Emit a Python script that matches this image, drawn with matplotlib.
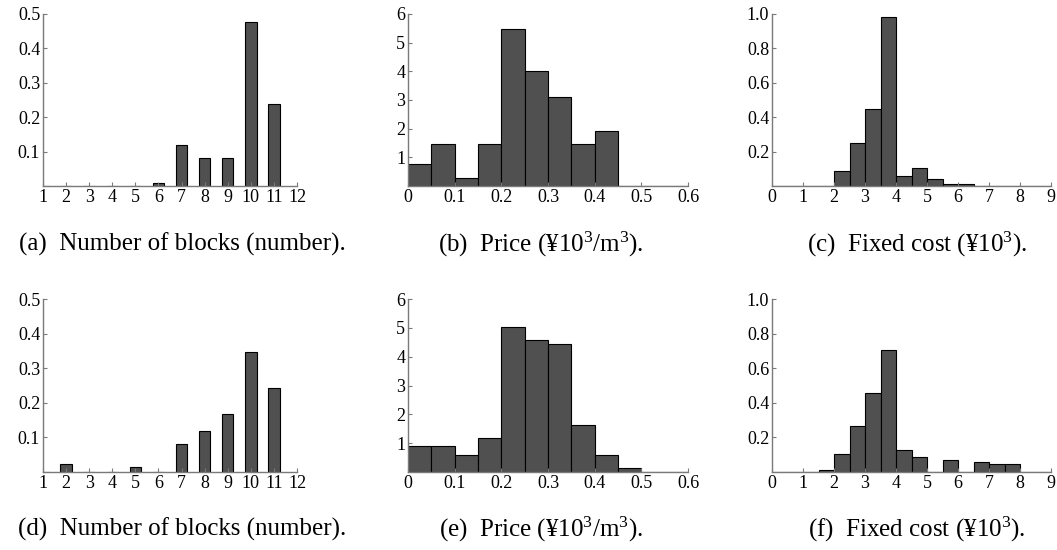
import numpy as np
import matplotlib
matplotlib.use("Agg")
import matplotlib.pyplot as plt

plt.rcParams['font.family'] = ['Liberation Serif', 'DejaVu Serif']
plt.rcParams['mathtext.fontset'] = 'custom'
plt.rcParams['mathtext.rm'] = 'Liberation Serif'
plt.rcParams['mathtext.it'] = 'Liberation Serif:italic'

# number of blocks (bar per integer)
blocks = np.arange(1, 12)
blocks_top = [0, 0, 0, 0, 0, 0.008, 0.118, 0.082, 0.082, 0.476, 0.238]
blocks_bot = [0, 0.022, 0, 0, 0.0135, 0, 0.081, 0.118, 0.169, 0.347, 0.244]

# price histogram, bins of 0.05
price_edges = np.arange(0, 0.6001, 0.05)
price_top = [0.76, 1.48, 0.29, 1.48, 5.49, 4.01, 3.12, 1.48, 1.93, 0, 0, 0]
price_bot = [0.89, 0.89, 0.59, 1.17, 5.02, 4.58, 4.43, 1.62, 0.60, 0.14, 0, 0]

# fixed cost histogram, bins of 0.5
cost_edges = np.arange(0, 9.001, 0.5)
cost_top = [0, 0, 0, 0, 0.089, 0.252, 0.445, 0.981, 0.060, 0.103, 0.043,
            0.014, 0.014, 0, 0, 0, 0, 0]
cost_bot = [0, 0, 0, 0.014, 0.103, 0.265, 0.456, 0.708, 0.130, 0.087, 0,
            0.072, 0, 0.058, 0.046, 0.046, 0, 0]

captions = ["(a)  Number of blocks (number).", "(b)  Price (¥10$^3$/m$^3$).",
            "(c)  Fixed cost (¥10$^3$).", "(d)  Number of blocks (number).",
            "(e)  Price (¥10$^3$/m$^3$).", "(f)  Fixed cost (¥10$^3$)."]

W, H = 1057, 550
fig = plt.figure(figsize=(W / 100, H / 100), dpi=100)

BAR = '#505050'
AX = '#7a7a7a'


def make_ax(l, r, b, t):
    ax = fig.add_axes([l / W, 1 - b / H, (r - l) / W, (b - t) / H])
    for s in ('top', 'right'):
        ax.spines[s].set_visible(False)
    for s in ('left', 'bottom'):
        ax.spines[s].set_color(AX)
        ax.spines[s].set_linewidth(1.0)
    ax.tick_params(direction='in', length=3, width=0.8, color=AX,
                   labelsize=13, pad=2)
    return ax


def draw_blocks(ax, vals):
    ax.bar(blocks, vals, width=0.5, color=BAR, edgecolor='black', linewidth=0.8)
    ax.set_xlim(1, 12)
    ax.set_ylim(0, 0.5)
    ax.set_xticks(range(1, 13))
    ax.set_yticks([0.1, 0.2, 0.3, 0.4, 0.5])
    ax.set_yticklabels(['0.1', '0.2', '0.3', '0.4', '0.5'])


def draw_price(ax, vals):
    ax.bar(price_edges[:-1], vals, width=0.05, align='edge', color=BAR,
           edgecolor='black', linewidth=0.8)
    ax.set_xlim(0, 0.6)
    ax.set_ylim(0, 6)
    ax.set_xticks([0, 0.1, 0.2, 0.3, 0.4, 0.5, 0.6])
    ax.set_xticklabels(['0', '0.1', '0.2', '0.3', '0.4', '0.5', '0.6'])
    ax.set_yticks([1, 2, 3, 4, 5, 6])


def draw_cost(ax, vals):
    ax.bar(cost_edges[:-1], vals, width=0.5, align='edge', color=BAR,
           edgecolor='black', linewidth=0.8)
    ax.set_xlim(0, 9)
    ax.set_ylim(0, 1.0)
    ax.set_xticks(range(0, 10))
    ax.set_yticks([0.2, 0.4, 0.6, 0.8, 1.0])
    ax.set_yticklabels(['0.2', '0.4', '0.6', '0.8', '1.0'])


rows = [(14, 186, 244), (299, 472, 529)]
cols = [(43, 297, 182), (408, 688, 541), (772, 1051, 917)]

for i, (t, b, cy) in enumerate(rows):
    axa = make_ax(cols[0][0], cols[0][1], b, t)
    draw_blocks(axa, blocks_top if i == 0 else blocks_bot)
    axb = make_ax(cols[1][0], cols[1][1], b, t)
    draw_price(axb, price_top if i == 0 else price_bot)
    axc = make_ax(cols[2][0], cols[2][1], b, t)
    draw_cost(axc, cost_top if i == 0 else cost_bot)
    for j, (l, r, cx) in enumerate(cols):
        fig.text(cx / W, 1 - cy / H, captions[i * 3 + j], ha='center',
                 va='center', fontsize=18)

fig.savefig('out.png', dpi=100)
